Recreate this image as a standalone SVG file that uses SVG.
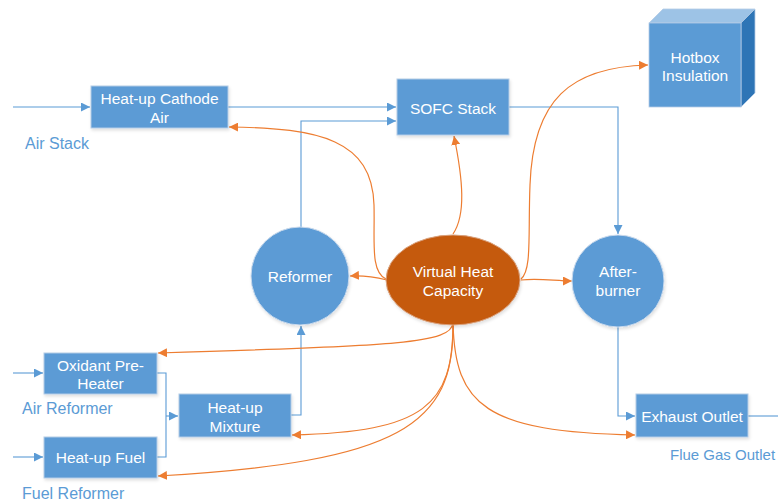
<svg xmlns="http://www.w3.org/2000/svg" width="778" height="501" viewBox="0 0 778 501">
  <style>
    .box { fill: #5b9bd5; stroke: #b4cbe6; stroke-width: 1; filter: url(#shadow); }
    .circ { fill: #5b9bd5; stroke: #c9d9ec; stroke-width: 1; filter: url(#shadow); }
    .lbl { font-family: "Liberation Sans", Arial, sans-serif; font-size: 15.5px; fill: #ffffff; text-anchor: middle; dominant-baseline: central; }
    .ext { font-family: "Liberation Sans", Arial, sans-serif; font-size: 16px; fill: #5b9bd5; dominant-baseline: central; }
    .flow { fill: none; stroke: #5b9bd5; stroke-width: 1.1; }
    .heat { fill: none; stroke: #ed7d31; stroke-width: 1.2; }
  </style>
  <defs>
    <filter id="shadow" x="-10%" y="-10%" width="130%" height="130%">
      <feDropShadow dx="1" dy="2" stdDeviation="1.5" flood-color="#000000" flood-opacity="0.12"/>
    </filter>
    <marker id="arrB" viewBox="0 0 10 10" refX="10" refY="5" markerWidth="9" markerHeight="9" markerUnits="userSpaceOnUse" orient="auto">
      <path d="M0,0 L10,5 L0,10 Z" fill="#5b9bd5"/>
    </marker>
    <marker id="arrO" viewBox="0 0 10 10" refX="10" refY="5" markerWidth="9" markerHeight="9" markerUnits="userSpaceOnUse" orient="auto">
      <path d="M0,0 L10,5 L0,10 Z" fill="#ed7d31"/>
    </marker>
  </defs>

  <rect width="778" height="501" fill="#ffffff"/>

  <!-- connectors -->
  <g id="connectors">
    <!-- material flows -->
    <path class="flow" d="M13,107 H90" marker-end="url(#arrB)"/>
    <path class="flow" d="M228,107 H396" marker-end="url(#arrB)"/>
    <path class="flow" d="M301,227 V121 H396" marker-end="url(#arrB)"/>
    <path class="flow" d="M509,107 H618 V234" marker-end="url(#arrB)"/>
    <path class="flow" d="M618,327 V416 H635" marker-end="url(#arrB)"/>
    <path class="flow" d="M748,416 H778"/>
    <path class="flow" d="M13,373 H43" marker-end="url(#arrB)"/>
    <path class="flow" d="M13,457 H43" marker-end="url(#arrB)"/>
    <path class="flow" d="M157,373 H166 V457 H157"/>
    <path class="flow" d="M166,416 H178" marker-end="url(#arrB)"/>
    <path class="flow" d="M291,415 H301 V326" marker-end="url(#arrB)"/>

    <!-- heat exchange with the virtual heat capacity -->
    <path class="heat" d="M387,280 C375,277 365,275 350,276" marker-end="url(#arrO)"/>
    <path class="heat" d="M386,279 C370,272 375,240 374,205 C372,140 320,128 229,127" marker-end="url(#arrO)"/>
    <path class="heat" d="M453,234 C466,215 463,180 454,136" marker-end="url(#arrO)"/>
    <path class="heat" d="M521,279 C532,270 528,235 530,185 C533,100 570,67 648,65" marker-end="url(#arrO)"/>
    <path class="heat" d="M521,280 C540,278 555,281 572,281" marker-end="url(#arrO)"/>
    <path class="heat" d="M453,323 C451,343 400,346 158,353" marker-end="url(#arrO)"/>
    <path class="heat" d="M453,323 C453,405 425,432 292,435" marker-end="url(#arrO)"/>
    <path class="heat" d="M453,323 C455,425 400,462 158,476" marker-end="url(#arrO)"/>
    <path class="heat" d="M453,323 C455,405 485,432 635,435" marker-end="url(#arrO)"/>
  </g>

  <!-- nodes -->
  <g id="heatup-cathode-air">
    <rect class="box" x="91" y="86" width="137" height="42"/>
    <text class="lbl" x="159.5" y="98">Heat-up Cathode</text>
    <text class="lbl" x="159.5" y="117">Air</text>
  </g>

  <g id="sofc-stack">
    <rect class="box" x="397" y="79" width="112" height="56"/>
    <text class="lbl" x="453" y="108">SOFC Stack</text>
  </g>

  <g id="hotbox-insulation">
    <polygon points="649,23 663,9 755,9 741,23" fill="#9dc3e6" stroke="#b4cbe6" stroke-width="0.8"/>
    <polygon points="741,23 755,9 755,93 741,107" fill="#2e75b6" stroke="#b4cbe6" stroke-width="0.8"/>
    <rect x="649" y="23" width="92" height="84" fill="#5b9bd5" stroke="#b4cbe6" stroke-width="0.8"/>
    <text class="lbl" x="695" y="57">Hotbox</text>
    <text class="lbl" x="695" y="75">Insulation</text>
  </g>

  <g id="reformer">
    <circle class="circ" cx="300" cy="276" r="49"/>
    <text class="lbl" x="300" y="276">Reformer</text>
  </g>

  <g id="virtual-heat-capacity">
    <ellipse cx="453" cy="280" rx="67" ry="45" fill="#c55a11" stroke="#d9a07a" stroke-width="1" filter="url(#shadow)"/>
    <text class="lbl" x="453" y="271">Virtual Heat</text>
    <text class="lbl" x="453" y="290">Capacity</text>
  </g>

  <g id="afterburner">
    <circle class="circ" cx="618" cy="281" r="46"/>
    <text class="lbl" x="618" y="271">After-</text>
    <text class="lbl" x="618" y="290">burner</text>
  </g>

  <g id="oxidant-preheater">
    <rect class="box" x="44" y="353" width="113" height="41"/>
    <text class="lbl" x="100.5" y="365">Oxidant Pre-</text>
    <text class="lbl" x="100.5" y="383">Heater</text>
  </g>

  <g id="heatup-mixture">
    <rect class="box" x="179" y="394" width="112" height="43"/>
    <text class="lbl" x="235" y="407">Heat-up</text>
    <text class="lbl" x="235" y="426">Mixture</text>
  </g>

  <g id="heatup-fuel">
    <rect class="box" x="44" y="437" width="113" height="41"/>
    <text class="lbl" x="100.5" y="457">Heat-up Fuel</text>
  </g>

  <g id="exhaust-outlet">
    <rect class="box" x="636" y="394" width="112" height="43"/>
    <text class="lbl" x="692" y="416">Exhaust Outlet</text>
  </g>

  <!-- stream labels -->
  <text class="ext" x="25" y="143">Air Stack</text>
  <text class="ext" x="22" y="408">Air Reformer</text>
  <text class="ext" x="22" y="493">Fuel Reformer</text>
  <text class="ext" x="670" y="454" style="font-size:15px">Flue Gas Outlet</text>
</svg>
